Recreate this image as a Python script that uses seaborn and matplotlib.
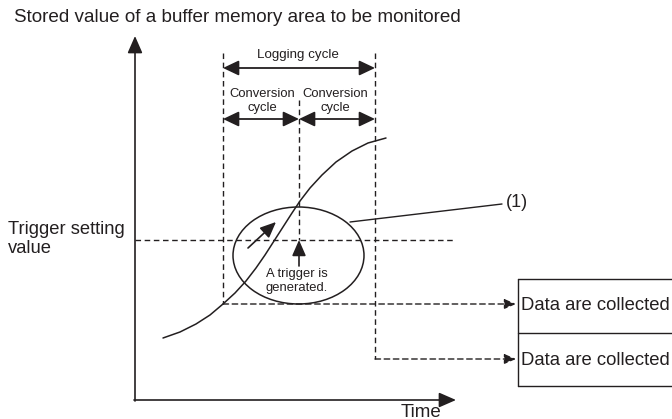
import matplotlib
matplotlib.use("Agg")
import matplotlib.pyplot as plt
import seaborn as sns
from matplotlib.patches import Ellipse

# ── diagram geometry (pixel space of the 672x419 picture) ──────
curve_x = [163, 180, 196, 210, 223, 235, 246, 256, 265, 274, 283, 292, 300, 310, 322, 336, 352, 368, 386]
curve_y = [338, 332, 324, 315, 304, 293, 281, 268, 255, 241, 227, 213, 201, 188, 175, 162, 151, 143, 138]

cycle_edges = [223, 299, 375]          # logging / conversion cycle boundaries
trigger_value = 240                    # trigger setting value level
collect_levels = [304, 359]            # dashed arrows to "Data are collected"
box_rows = [279, 333, 386]             # row borders of the right-hand table

title_text = "Stored value of a buffer memory area to be monitored"
collect_labels = ["Data are collected", "Data are collected"]

INK = "#231f20"
DASH = (0, (4.0, 2.6))

sns.set_theme(style="white")
plt.rcParams["font.family"] = ["Liberation Sans", "DejaVu Sans"]

fig = plt.figure(figsize=(6.72, 4.19), dpi=100)
ax = fig.add_axes([0, 0, 1, 1])
ax.set_xlim(0, 672)
ax.set_ylim(419, 0)
ax.axis("off")


def arrow(x0, y0, x1, y1, style="-|>", scale=12, lw=1.2, ls="-"):
    ax.annotate("", xy=(x1, y1), xytext=(x0, y0),
                arrowprops=dict(arrowstyle=style, color=INK, lw=lw, ls=ls,
                                mutation_scale=scale, shrinkA=0, shrinkB=0))


# axes of the diagram
arrow(135, 401, 135, 36, style="-|>,head_length=0.8,head_width=0.35", scale=13)
arrow(134, 400, 456, 400, style="-|>,head_length=0.8,head_width=0.35", scale=13)

# curve of the monitored value
sns.lineplot(x=curve_x, y=curve_y, sort=False, color=INK, lw=1.1, ax=ax)

# dashed guides
ax.plot([135, 455], [trigger_value] * 2, color=INK, lw=1, ls=DASH)
ax.plot([cycle_edges[0]] * 2, [53, collect_levels[0]], color=INK, lw=1, ls=DASH)
ax.plot([cycle_edges[1]] * 2, [100, trigger_value], color=INK, lw=1, ls=DASH)
ax.plot([cycle_edges[2]] * 2, [53, collect_levels[1]], color=INK, lw=1, ls=DASH)
arrow(cycle_edges[0], collect_levels[0], 516, collect_levels[0],
      style="-|>,head_length=0.7,head_width=0.3", scale=10, lw=1, ls=DASH)
arrow(cycle_edges[2], collect_levels[1], 516, collect_levels[1],
      style="-|>,head_length=0.7,head_width=0.3", scale=10, lw=1, ls=DASH)

# cycle span arrows
dbl = "<|-|>,head_length=0.8,head_width=0.38"
arrow(cycle_edges[0], 68, cycle_edges[2], 68, style=dbl, scale=12, lw=1.3)
arrow(cycle_edges[0], 119, cycle_edges[1], 119, style=dbl, scale=12, lw=1.3)
arrow(cycle_edges[1], 119, cycle_edges[2], 119, style=dbl, scale=12, lw=1.3)
ax.text(298, 55, "Logging cycle", ha="center", va="center", fontsize=9.6, color=INK)
for cx in [262, 335]:
    ax.text(cx, 101, "Conversion\ncycle", ha="center", va="center",
            fontsize=9.4, color=INK, linespacing=1.2)

# trigger circle and arrows
ax.add_patch(Ellipse((298.5, 255.5), 131, 97, fill=False, ec=INK, lw=1.1))
arrow(299, 266, 299, trigger_value, style="-|>,head_length=0.8,head_width=0.35", scale=12)
arrow(248, 248, 276, 222, style="-|>,head_length=0.8,head_width=0.35", scale=12)
ax.text(297, 281, "A trigger is\ngenerated.", ha="center", va="center",
        fontsize=9.4, color=INK, linespacing=1.2)
ax.plot([350, 502], [222, 204], color=INK, lw=1)
ax.text(506, 202, "(1)", ha="left", va="center", fontsize=13, color=INK)

# right-hand table
ax.plot([518, 518], [box_rows[0], box_rows[-1]], color=INK, lw=1)
for y in box_rows:
    ax.plot([518, 690], [y, y], color=INK, lw=1)
for y, lab in zip(collect_levels, collect_labels):
    ax.text(521, y + 1, lab, ha="left", va="center", fontsize=13.3, color=INK)

# labels
ax.text(14, 18, title_text, ha="left", va="center", fontsize=13.6, color=INK)
ax.text(8, 239, "Trigger setting\nvalue", ha="left", va="center",
        fontsize=13.2, color=INK, linespacing=1.2)
ax.text(421, 412, "Time", ha="center", va="center", fontsize=13.5, color=INK)

fig.savefig("out.png", dpi=100)
